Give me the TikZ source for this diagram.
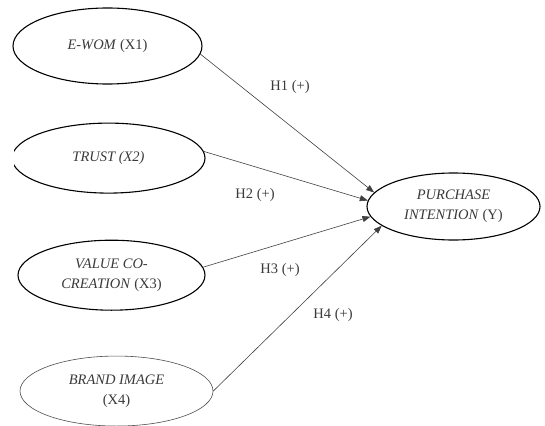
\documentclass[tikz,border=0pt]{standalone}
\usepackage{fontspec}
\setmainfont{Liberation Serif}
\usetikzlibrary{positioning,shapes,arrows.meta}
\definecolor{textgray}{HTML}{3a3a3a}

\begin{document}
\begin{tikzpicture}[x=1pt,y=-1pt,
   construct/.style={ellipse, draw, line width=1.1pt, inner sep=0pt, align=center,
     text=textgray, font=\fontsize{14.5}{20}\selectfont},
   hyp/.style={text=textgray, font=\fontsize{14.5}{20}\selectfont},
   link/.style={-{Triangle[length=8pt,width=6pt]}, line width=0.6pt, draw=black!75}]
   \useasboundingbox (0,0) rectangle (545,425);
   \node[construct, minimum width=189pt, minimum height=76pt] (ewom) at (107.5,46)
   {\textit{E-WOM} (X1)};
   \begin{scope}
   \clip (14,0) rectangle (545,425);
   \node[construct, minimum width=193pt, minimum height=70pt] (trust) [below=38pt of ewom, xshift=1pt]
   {\textit{TRUST (X2)}};
   \end{scope}
   \node[construct, minimum width=187pt, minimum height=70pt] (valco) [below=46pt of trust, xshift=3pt]
   {\textit{VALUE CO-}\\ \textit{CREATION} (X3)};
   \node[construct, minimum width=193pt, minimum height=70pt, line width=0.6pt, draw=black!70] (brand) [below=45pt of valco, xshift=5pt]
   {\textit{BRAND IMAGE}\\ (X4)};
   \node[construct, minimum width=173pt, minimum height=67pt] (purchase) at (453.5,206.5)
   {\textit{PURCHASE}\\ \textit{INTENTION} (Y)};
   % hypothesis labels
   \node[hyp] (h1) at (290,87) {H1 (+)};
   \node[hyp] (h2) at (255,195) {H2 (+)};
   \node[hyp] (h3) at (280,270) {H3 (+)};
   \node[hyp] (h4) at (333,315) {H4 (+)};
    \path
     (ewom.-5) edge[link] (purchase.170)
     (trust.4) edge[link] (purchase.176)
     (valco.5) edge[link] (purchase.187)
     (brand.east) edge[link] (purchase.195)
     ;
\end{tikzpicture}
\end{document}
